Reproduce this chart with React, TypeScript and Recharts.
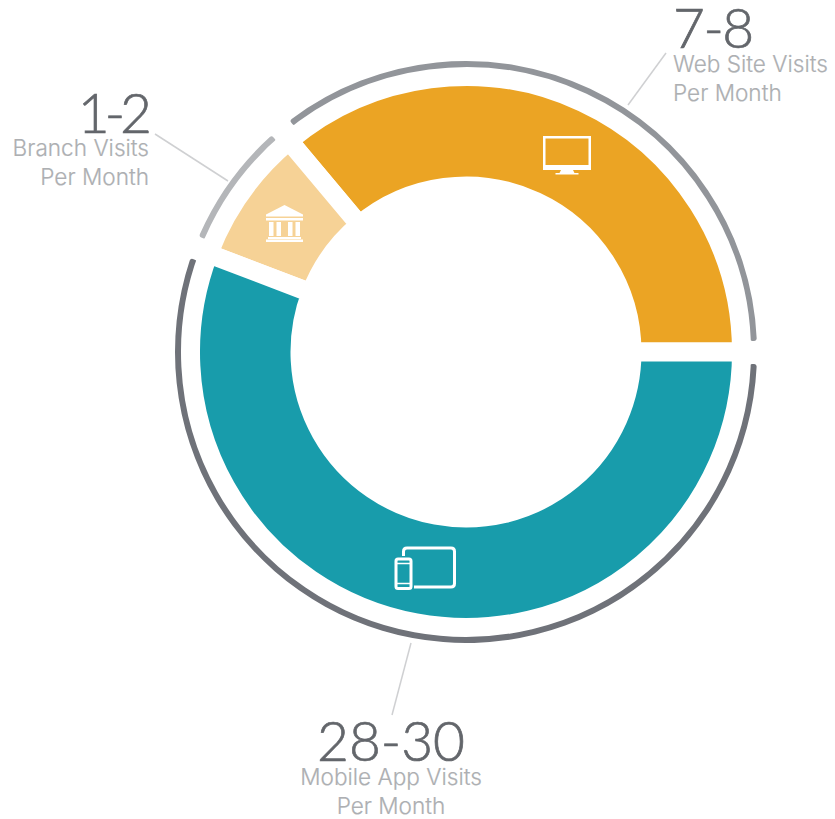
import { PieChart, Pie, Cell } from "recharts"

// share of the circle each channel takes
const channels = ["Web Site Visits", "Branch Visits", "Mobile App Visits"]
const shares = [36.1, 8.1, 55.8]
// outer ring arcs in degrees, they stop short of the gaps
const ringArcs = [125.1, 24.7, 196.4]
const ranges = ["7-8", "1-2", "28-30"]
const fills = ["#EBA424", "#F6D296", "#189CAB"]
const ringFills = ["#92959A", "#B4B6B9", "#6F7279"]

const chartData = channels.map((name, i) => ({ name, share: shares[i], arc: ringArcs[i] }))

const NUM = "#63666B"
const CAPTION = "#ADAFB2"
const LEADER = "#CFD0D2"

function Caption(props: { x: number; y: number; anchor: "start" | "middle" | "end"; big: string; line: string; bigX?: number; bigY: number; tracking?: number }) {
  const { x, y, anchor, big, line, bigX = x, bigY, tracking = 0 } = props
  return (
    <g textAnchor={anchor}>
      <text x={bigX} y={bigY} letterSpacing={tracking} fontFamily="Lato, sans-serif" fontSize={55} fontWeight={300} fill={NUM} stroke={NUM} strokeWidth={0.7}>{big}</text>
      <text x={x} y={y} fontFamily="Inter, sans-serif" fontSize={22.6} fontWeight={300} fill={CAPTION} stroke={CAPTION} strokeWidth={0.2}>{line}</text>
      <text x={x} y={y + 29} fontFamily="Inter, sans-serif" fontSize={22.6} fontWeight={300} fill={CAPTION} stroke={CAPTION} strokeWidth={0.2}>Per Month</text>
    </g>
  )
}

function MonitorIcon() {
  return (
    <g fill="#fff">
      <path fillRule="evenodd" d="M543 136h48v34h-48zM545.500 138.500v26.500h43v-26.500z" />
      <path d="M561 170h12l1.500 3h4v1.500h-23v-1.500h4z" />
    </g>
  )
}

function BankIcon() {
  return (
    <g fill="#fff">
      <path d="M284.500 205l18.500 9.500v2h-37v-2z" />
      <rect x="266" y="218" width="37" height="2.500" />
      <rect x="269" y="222" width="4.500" height="14" />
      <rect x="276.500" y="222" width="4.500" height="14" />
      <rect x="288" y="222" width="4.500" height="14" />
      <rect x="295.500" y="222" width="4.500" height="14" />
      <rect x="268" y="237" width="33" height="2" />
      <rect x="266" y="239.500" width="37" height="2.500" />
    </g>
  )
}

function DevicesIcon() {
  return (
    <g fill="none" stroke="#fff" strokeWidth={3}>
      <path d="M403.500 556v-4.500q0-3.500 3.500-3.500h44q3.500 0 3.500 3.500v32q0 3.500-3.500 3.500h-37" />
      <rect x="396" y="559" width="15" height="29.500" rx="2" />
      <path d="M396 563.500h15M396 583.500h15" strokeWidth={1.500} />
    </g>
  )
}

const icons = [<MonitorIcon />, <BankIcon />, <DevicesIcon />]

export default function App() {
  return (
    <div style={{ position: "absolute", left: 0, top: 0, width: 835, height: 819, background: "#fff" }}>
      <PieChart width={835} height={819} margin={{ top: 0, right: 0, bottom: 0, left: 0 }}>
        {/* thin outer ring, gaps come from paddingAngle */}
        <Pie
          data={chartData}
          dataKey="arc"
          cx={466}
          cy={352}
          innerRadius={284}
          outerRadius={291}
          startAngle={2.2}
          endAngle={362.2}
          paddingAngle={4.6}
          cornerRadius={2.5}
          stroke="none"
          isAnimationActive={false}
        >
          {chartData.map((d, i) => (
            <Cell key={d.name} fill={ringFills[i]} />
          ))}
        </Pie>
        {/* main donut, wide white stroke makes the straight gaps */}
        <Pie
          data={chartData}
          dataKey="share"
          cx={466}
          cy={352}
          innerRadius={166}
          outerRadius={275.5}
          startAngle={0}
          endAngle={360}
          paddingAngle={0}
          stroke="#fff"
          strokeWidth={19}
          labelLine={false}
          label={({ index }: { index: number }) => <g key={index}>{icons[index]}</g>}
          isAnimationActive={false}
        >
          {chartData.map((d, i) => (
            <Cell key={d.name} fill={fills[i]} stroke="#fff" strokeWidth={19} />
          ))}
        </Pie>

        <g stroke={LEADER} strokeWidth={1.5}>
          <line x1={628} y1={105} x2={666} y2={53} />
          <line x1={228} y1={181} x2={155} y2={134} />
          <line x1={411} y1={643} x2={392} y2={715} />
        </g>

        <Caption x={673} y={71.5} bigY={48} anchor="start" big={ranges[0]} line={channels[0]} tracking={-1.5} />
        <Caption x={149} y={156} bigX={147} bigY={133} anchor="end" big={ranges[1]} line={channels[1]} tracking={-5} />
        <Caption x={391} y={785} bigY={761} anchor="middle" big={ranges[2]} line={channels[2]} />
      </PieChart>
    </div>
  )
}
